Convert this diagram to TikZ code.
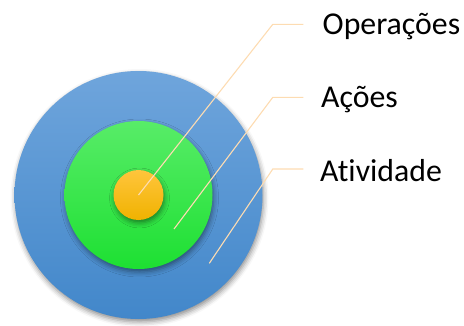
\documentclass[tikz,border=0pt]{standalone}
\usepackage{fontspec}
\setmainfont{Carlito}[Ligatures=NoCommon]
\usetikzlibrary{shadows.blur}

\definecolor{blueTop}{HTML}{6FA5DC}
\definecolor{blueBot}{HTML}{4287CA}
\definecolor{greenTop}{HTML}{58EC68}
\definecolor{greenBot}{HTML}{1DE032}
\definecolor{yellowTop}{HTML}{FFC53C}
\definecolor{yellowBot}{HTML}{F0B200}
\definecolor{leader}{HTML}{FDDCB2}

\tikzset{
  ring/.style={circle, inner sep=0pt, draw=none,
    blur shadow={shadow xshift=1pt, shadow yshift=-3pt,
                 shadow blur radius=5pt, shadow opacity=45}},
  leaderline/.style={draw=leader, line width=1.1pt},
  lbl/.style={anchor=base west, inner sep=0pt,
    font=\fontsize{31.8}{38}\selectfont, text=black}
}

\begin{document}
\begin{tikzpicture}[x=1pt, y=1pt]
  \useasboundingbox (0,0) rectangle (464,325);

  % concentric circles
  \node[ring, minimum size=248pt, top color=blueTop, bottom color=blueBot]
    (ativ) at (138.5,130) {};
  \node[ring, minimum size=148pt, top color=greenTop, bottom color=greenBot]
    (acoes) at (138.5,130) {};
  \node[ring, minimum size=50pt, top color=yellowTop, bottom color=yellowBot]
    (oper) at (138.5,130) {};

  % leader line anchors
  \coordinate (sOp) at (oper.center);
  \coordinate (kOp) at (272.8,300.7);
  \coordinate (eOp) at (303.3,300.7);

  \coordinate (sAc) at (174,96);
  \coordinate (kAc) at (272.8,227.7);
  \coordinate (eAc) at (303.3,227.7);

  \coordinate (sAt) at (209.3,61.7);
  \coordinate (kAt) at (272.8,156);
  \coordinate (eAt) at (303.3,156);

  \draw[leaderline] (sOp) -- (kOp) -- (eOp);
  \draw[leaderline] (sAc) -- (kAc) -- (eAc);
  \draw[leaderline] (sAt) -- (kAt) -- (eAt);

  % labels
  \node[lbl] (tOp) at (322.5,290.6) {Operações};
  \node[lbl] (tAc) at (321,217.8) {Ações};
  \node[lbl] (tAt) at (320,144) {Atividade};
\end{tikzpicture}
\end{document}
